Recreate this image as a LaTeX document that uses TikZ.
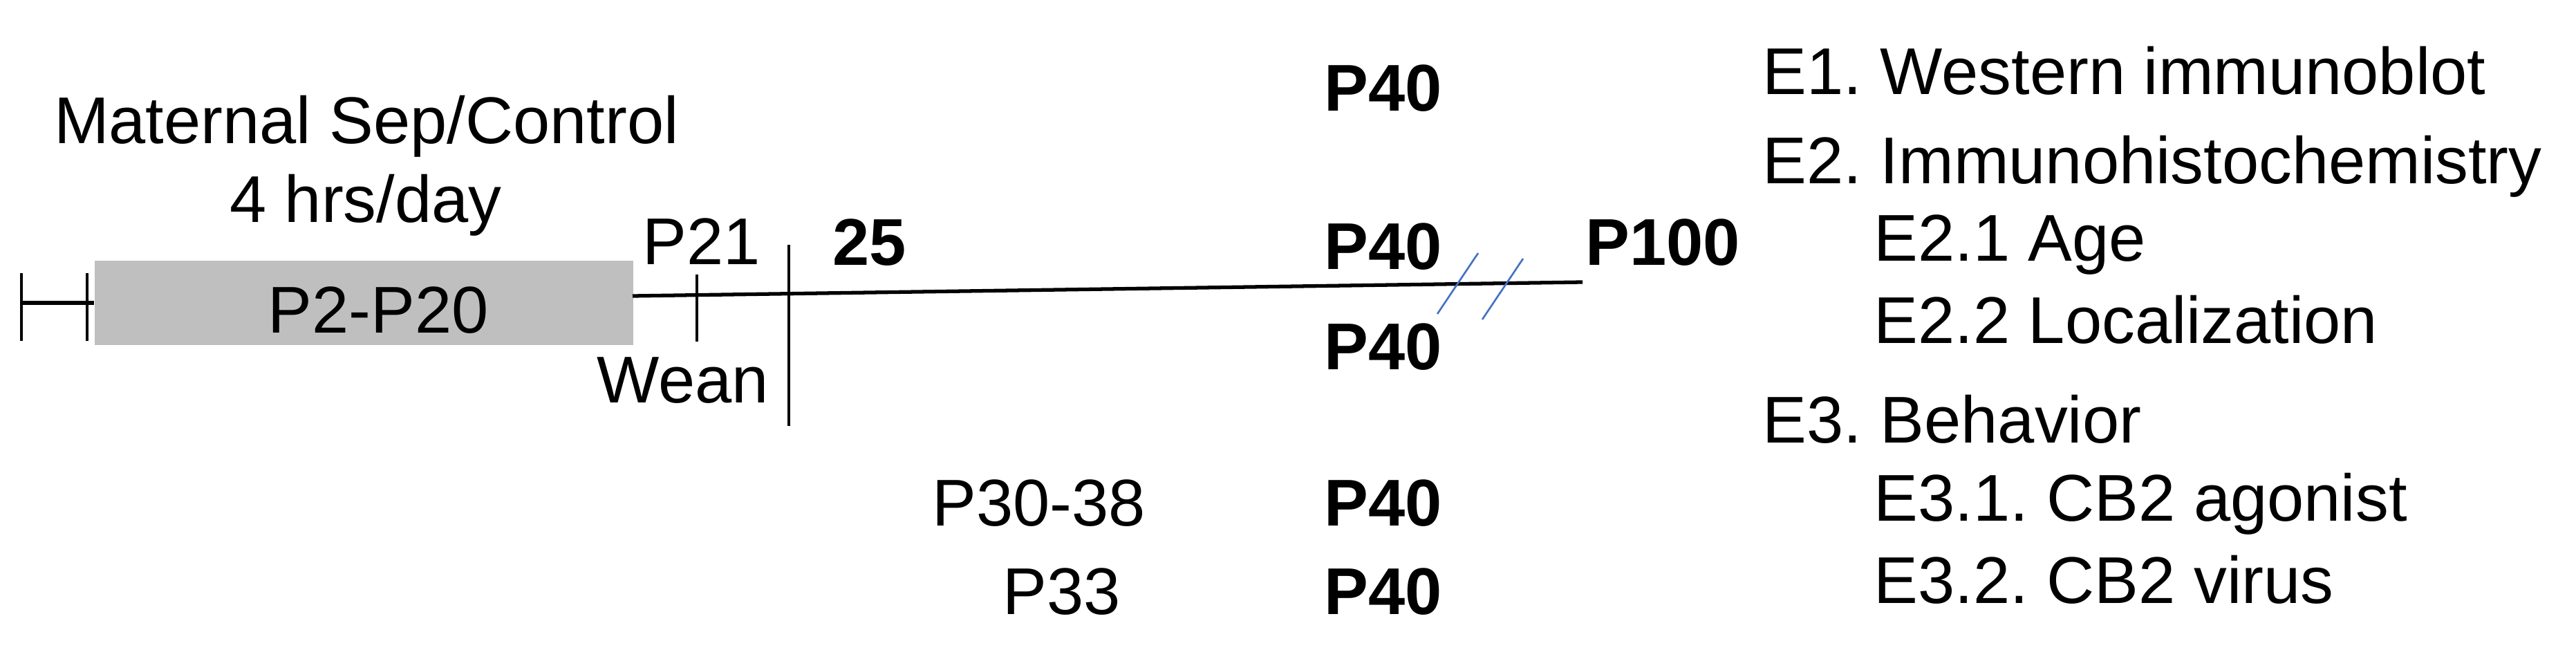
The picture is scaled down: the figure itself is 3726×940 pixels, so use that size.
\documentclass[tikz,border=0pt]{standalone}
\usepackage{fontspec}
\setmainfont{Liberation Sans}
\frenchspacing
\definecolor{boxgray}{HTML}{BFBFBF}
\definecolor{slashblue}{HTML}{4472C4}
\tikzset{
  lbl/.style={font=\fontsize{27.2}{32}\selectfont, inner sep=0pt, anchor=base},
  blbl/.style={lbl, font=\fontsize{27.2}{32}\selectfont\bfseries},
  item/.style={lbl, anchor=base west},
  mainline/.style={line width=1.5pt, black},
  tickline/.style={line width=1.1pt, black},
  slash/.style={line width=0.75pt, slashblue},
}
\begin{document}
\begin{tikzpicture}[x=0.01cm, y=-0.01cm]
\path[use as bounding box, fill=white] (0,0) rectangle (3726,940);

% gray separation box
\node[fill=boxgray, draw=none, minimum width=7.79cm, minimum height=1.22cm, inner sep=0pt, anchor=north west] (sep) at (136,376) {};
\node[lbl] (p2p20) at (547,482) {\frenchspacing P2-P20};

% left bracket
\coordinate (b1t) at (31,395);
\coordinate (b1b) at (31,493);
\coordinate (b2t) at (126,395);
\coordinate (b2b) at (126,493);
\coordinate (b1m) at (31,438);
\draw[tickline] (b1t) -- (b1b);
\draw[tickline] (b2t) -- (b2b);
\draw[mainline] (b1m) -- (sep.west |- b1m);

% main timeline
\coordinate (ls) at (915,428);
\coordinate (le) at (2289,408);
\draw[mainline] (ls) -- (le);

% P21 tick and 25 line
\coordinate (t21t) at (1008,397);
\coordinate (t21b) at (1008,494);
\draw[tickline] (t21t) -- (t21b);
\coordinate (t25t) at (1141,354);
\coordinate (t25b) at (1141,616);
\draw[tickline] (t25t) -- (t25b);

% break slashes
\coordinate (s1a) at (2138,366);
\coordinate (s1b) at (2079,454);
\coordinate (s2a) at (2203,374);
\coordinate (s2b) at (2144,462);
\draw[slash] (s1a) -- (s1b);
\draw[slash] (s2a) -- (s2b);

% left labels
\node[lbl] (mat) at (530,208) {Maternal Sep/Control};
\node[lbl] (hrs) at (529,322) {4 hrs/day};
\node[lbl] (p21) at (1015,383) {P21};
\node[lbl] (wean) at (988,583) {Wean};
\node[blbl] (d25) at (1258,384) {25};

% middle labels
\node[blbl] (p40a) at (2001,161) {P40};
\node[blbl] (p40b) at (2001,390) {P40};
\node[blbl] (p40c) at (2001,535) {P40};
\node[blbl] (p40d) at (2001,761) {P40};
\node[blbl] (p40e) at (2001,888) {P40};
\node[blbl] (p100) at (2405,384) {P100};
\node[lbl] (p3038) at (1503,761) {P30-38};
\node[lbl] (p33) at (1536,888) {P33};

% right column
\node[item] (e1) at (2549,137) {\frenchspacing E1. Western immunoblot};
\node[item] (e2) at (2549,266) {\frenchspacing E2. Immunohistochemistry};
\node[item] (e21) at (2710,378) {E2.1 Age};
\node[item] (e22) at (2710,497) {E2.2 Localization};
\node[item] (e3) at (2549,640) {\frenchspacing E3. Behavior};
\node[item] (e31) at (2710,753) {\frenchspacing E3.1. CB2 agonist};
\node[item] (e32) at (2710,872) {\frenchspacing E3.2. CB2 virus};
\end{tikzpicture}
\end{document}
